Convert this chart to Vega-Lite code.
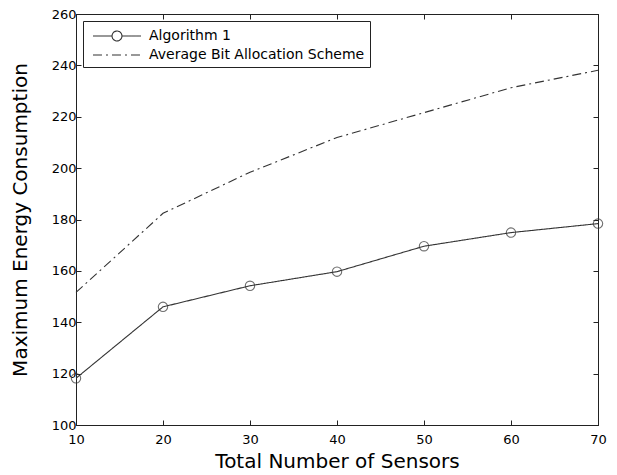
{
  "$schema": "https://vega.github.io/schema/vega-lite/v6.json",
  "width": 522,
  "height": 411,
  "autosize": "none",
  "padding": {"left": 76, "top": 14, "right": 19, "bottom": 50},
  "background": "white",
  "config": {"view": {"stroke": "#222", "strokeWidth": 1}, "font": "DejaVu Sans"},
  "data": {
    "values": [
      {"series": "Algorithm 1", "sensors": 10, "energy": 118.2},
      {"series": "Algorithm 1", "sensors": 20, "energy": 146.0},
      {"series": "Algorithm 1", "sensors": 30, "energy": 154.2},
      {"series": "Algorithm 1", "sensors": 40, "energy": 159.7},
      {"series": "Algorithm 1", "sensors": 50, "energy": 169.6},
      {"series": "Algorithm 1", "sensors": 60, "energy": 174.9},
      {"series": "Algorithm 1", "sensors": 70, "energy": 178.4},
      {"series": "Average Bit Allocation Scheme", "sensors": 10, "energy": 151.6},
      {"series": "Average Bit Allocation Scheme", "sensors": 20, "energy": 182.4},
      {"series": "Average Bit Allocation Scheme", "sensors": 30, "energy": 198.4},
      {"series": "Average Bit Allocation Scheme", "sensors": 40, "energy": 211.9},
      {"series": "Average Bit Allocation Scheme", "sensors": 50, "energy": 221.6},
      {"series": "Average Bit Allocation Scheme", "sensors": 60, "energy": 231.3},
      {"series": "Average Bit Allocation Scheme", "sensors": 70, "energy": 238.1}
    ]
  },
  "layer": [
    {
      "mark": {"type": "line", "color": "#333", "strokeWidth": 1.1},
      "encoding": {
        "x": {
          "field": "sensors", "type": "quantitative",
          "scale": {"domain": [10, 70], "nice": false, "zero": false},
          "axis": {
            "orient": "bottom", "values": [10, 20, 30, 40, 50, 60, 70],
            "tickSize": -5, "labelPadding": 13, "labelFlush": false, "labelOverlap": false,
            "grid": false, "domainColor": "#222", "tickColor": "#222",
            "labelFont": "DejaVu Sans", "labelFontSize": 13, "labelColor": "black",
            "title": "Total Number of Sensors", "titleFont": "DejaVu Sans", "titleFontSize": 20,
            "titleFontWeight": "normal", "titleColor": "black", "titlePadding": 5
          }
        },
        "y": {
          "field": "energy", "type": "quantitative",
          "scale": {"domain": [100, 260], "nice": false, "zero": false},
          "axis": {
            "orient": "left", "values": [100, 120, 140, 160, 180, 200, 220, 240, 260],
            "tickSize": -5, "labelPadding": 5, "labelOverlap": false, "labelFlush": false,
            "grid": false, "domainColor": "#222", "tickColor": "#222",
            "labelFont": "DejaVu Sans", "labelFontSize": 13, "labelColor": "black",
            "title": "Maximum Energy Consumption", "titleFont": "DejaVu Sans", "titleFontSize": 20,
            "titleFontWeight": "normal", "titleColor": "black", "titlePadding": 21
          }
        },
        "strokeDash": {
          "field": "series", "type": "nominal",
          "scale": {"domain": ["Algorithm 1", "Average Bit Allocation Scheme"], "range": [[1, 0], [9, 4, 2, 4]]},
          "legend": {
            "title": null, "orient": "top-left", "offset": 7, "padding": 5,
            "strokeColor": "#222", "fillColor": "white",
            "symbolSize": 324, "symbolOffset": 19, "labelOffset": 22,
            "labelFont": "DejaVu Sans", "labelFontSize": 14, "labelColor": "black", "labelLimit": 400,
            "symbolStrokeColor": "#333", "symbolStrokeWidth": 1.1, "symbolFillColor": "transparent",
            "rowPadding": 1,
            "encode": {"symbols": {"update": {"opacity": {"value": 1}}}}
          }
        }
      }
    },
    {
      "transform": [{"filter": "datum.series === 'Algorithm 1'"}],
      "mark": {"type": "point", "shape": "circle", "filled": false, "size": 88, "color": "#333", "strokeWidth": 1.1},
      "encoding": {
        "x": {"field": "sensors", "type": "quantitative", "axis": null},
        "y": {"field": "energy", "type": "quantitative", "axis": null}
      }
    },
    {
      "mark": {"type": "point", "filled": false, "opacity": 0, "color": "#333", "strokeWidth": 1},
      "encoding": {
        "x": {
          "field": "sensors", "type": "quantitative",
          "axis": {
            "orient": "top", "values": [10, 20, 30, 40, 50, 60, 70], "labels": false, "title": null,
            "tickSize": -5, "grid": false, "domainColor": "#222", "tickColor": "#222"
          }
        },
        "y": {
          "field": "energy", "type": "quantitative",
          "axis": {
            "orient": "right", "values": [100, 120, 140, 160, 180, 200, 220, 240, 260], "labels": false, "title": null,
            "tickSize": -5, "grid": false, "domainColor": "#222", "tickColor": "#222"
          }
        },
        "shape": {
          "field": "series", "type": "nominal",
          "scale": {
            "domain": ["Algorithm 1", "Average Bit Allocation Scheme"],
            "range": [
              "M-2.67,0H-0.55M0.55,0H2.67M0.55,0A0.55,0.55,0,1,1,-0.55,0A0.55,0.55,0,1,1,0.55,0",
              "M-2.67,0H2.67"
            ]
          },
          "legend": {
            "title": null, "orient": "top-left", "offset": 7, "padding": 5,
            "strokeColor": "#222", "fillColor": "white",
            "symbolSize": 324, "symbolOffset": 19, "labelOffset": 22,
            "labelFont": "DejaVu Sans", "labelFontSize": 14, "labelColor": "black", "labelLimit": 400,
            "symbolStrokeColor": "#333", "symbolStrokeWidth": 1.1, "symbolFillColor": "transparent",
            "rowPadding": 1,
            "encode": {"symbols": {"update": {"opacity": {"value": 1}}}}
          }
        },
        "strokeDash": {
          "field": "series", "type": "nominal",
          "legend": {
            "title": null, "orient": "top-left", "offset": 7, "padding": 5,
            "strokeColor": "#222", "fillColor": "white",
            "symbolSize": 324, "symbolOffset": 19, "labelOffset": 22,
            "labelFont": "DejaVu Sans", "labelFontSize": 14, "labelColor": "black", "labelLimit": 400,
            "symbolStrokeColor": "#333", "symbolStrokeWidth": 1.1, "symbolFillColor": "transparent",
            "rowPadding": 1,
            "encode": {"symbols": {"update": {"opacity": {"value": 1}}}}
          }
        }
      }
    }
  ],
  "resolve": {"axis": {"x": "independent", "y": "independent"}}
}
